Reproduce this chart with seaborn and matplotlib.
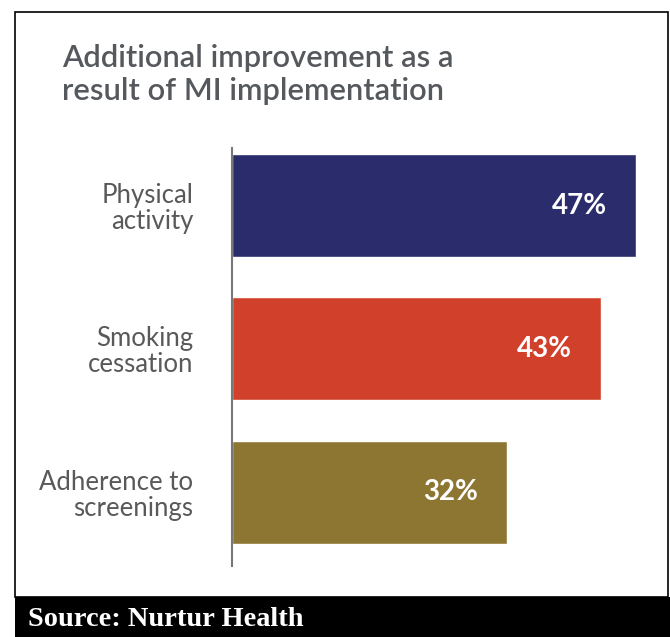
import matplotlib
matplotlib.use("Agg")
import matplotlib.pyplot as plt
import seaborn as sns
import pandas as pd
from matplotlib.patches import Rectangle

categories = ["Physical\nactivity", "Smoking\ncessation", "Adherence to\nscreenings"]
values = [47, 43, 32]
value_labels = ["47%", "43%", "32%"]
bar_colors = ["#2a2c6c", "#d0402a", "#8d7532"]

title = "Additional improvement as a\nresult of MI implementation"
source = "Source: Nurtur Health"

sns.set_style("white")
plt.rcParams["font.family"] = ["Lato", "DejaVu Sans"]

W, H = 670, 637
fig = plt.figure(figsize=(W / 100, H / 100), dpi=100, facecolor="white")

# outer frame and footer band
fig.patches.append(Rectangle((15 / W, (H - 597) / H), (668 - 15) / W, (597 - 12) / H,
                             transform=fig.transFigure, fill=False, edgecolor="black", linewidth=1.2))
fig.patches.append(Rectangle((15 / W, 0), 1 - 15 / W, (H - 597) / H,
                             transform=fig.transFigure, facecolor="black", edgecolor="none"))
fig.text(28 / W, (H - 619) / H, source, color="white", fontsize=20.4, fontweight="bold",
         family=["Liberation Serif", "DejaVu Serif"], va="center", ha="left")

fig.text(62 / W, (H - 44) / H, title, color="#55585c", fontsize=22.2, fontweight="semibold",
         va="top", ha="left", linespacing=1.2)

ax = fig.add_axes([232 / W, (H - 566) / H, (668 - 232) / W, 418 / H])
df = pd.DataFrame({"category": categories, "value": values})
sns.barplot(data=df, x="value", y="category", hue="category", palette=bar_colors,
            orient="h", width=0.72, legend=False, saturation=1, ax=ax)

ax.set_xlim(0, (668 - 232) / 8.59)
ax.set_ylim(2.517, -0.405)
ax.set_xlabel("")
ax.set_ylabel("")
ax.set_xticks([])
for s in ["top", "right", "bottom"]:
    ax.spines[s].set_visible(False)
ax.spines["left"].set_color("#777777")
ax.spines["left"].set_linewidth(1.5)
ax.tick_params(axis="y", length=0, pad=28, labelsize=18.5, labelcolor="#595959")
for lbl in ax.get_yticklabels():
    lbl.set_horizontalalignment("right")
    lbl.set_linespacing(1.05)

for i, (v, t) in enumerate(zip(values, value_labels)):
    ax.annotate(t, (v, i), xytext=(-29, 0), textcoords="offset pixels",
                ha="right", va="center", color="white", fontsize=20, fontweight="bold")

fig.savefig("out.png", dpi=100, facecolor="white")
